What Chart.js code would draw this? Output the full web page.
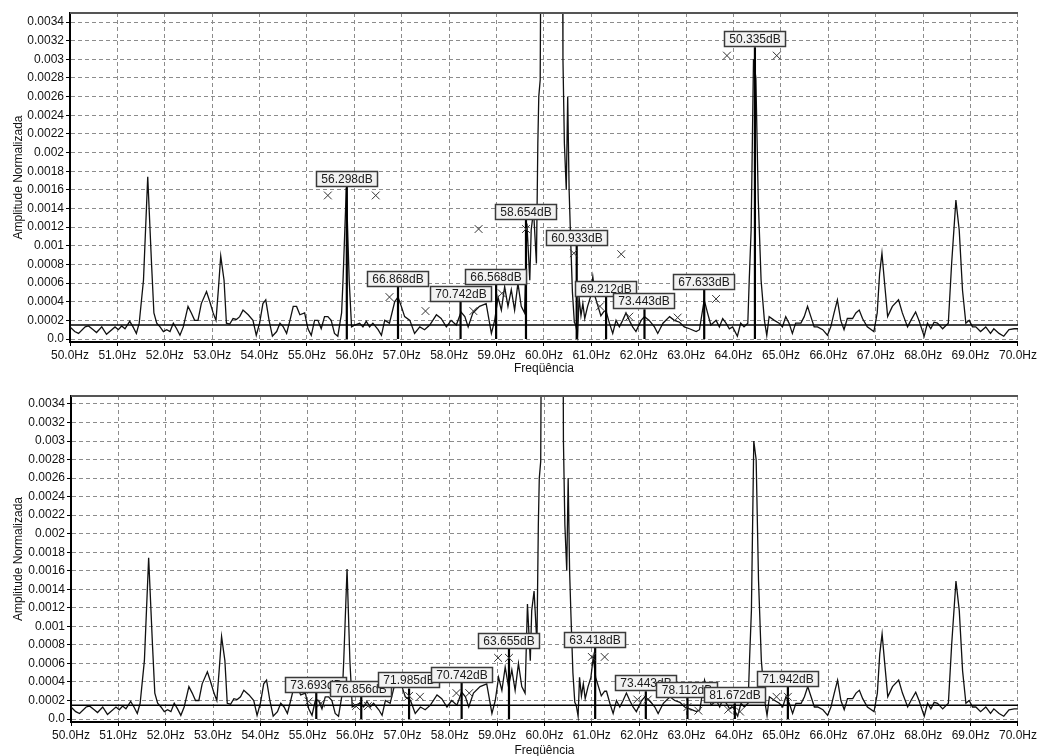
<!DOCTYPE html>
<html>
<head>
<meta charset="utf-8">
<script src="https://cdn.jsdelivr.net/npm/chart.js@4"></script>
<style>
  html, body { margin: 0; padding: 0; background: #fff; overflow: hidden; }
  .panel { position: absolute; left: 0; width: 1039px; }
  #top-panel { top: 0; height: 378px; }
  #bottom-panel { top: 378px; height: 390px; }
</style>
</head>
<body>
<div class="panel" id="top-panel"><canvas id="top-chart" width="1039" height="378"></canvas></div>
<div class="panel" id="bottom-panel"><canvas id="bottom-chart" width="1039" height="390"></canvas></div>
<script>
// Spectrum (Hz / normalized amplitude)
const freqs = [
  50.00, 50.10, 50.18, 50.32, 50.39, 50.49, 50.56, 50.67, 50.77, 50.95,
  51.02, 51.09, 51.16, 51.26, 51.33, 51.40, 51.46, 51.55, 51.64, 51.72,
  51.77, 51.83, 51.90, 51.97, 52.04, 52.11, 52.18, 52.25, 52.32, 52.39,
  52.49, 52.56, 52.63, 52.70, 52.77, 52.88, 52.95, 53.02, 53.08, 53.13,
  53.18, 53.25, 53.30, 53.37, 53.44, 53.51, 53.58, 53.65, 53.76, 53.86,
  53.93, 54.00, 54.07, 54.13, 54.20, 54.27, 54.36, 54.43, 54.50, 54.57,
  54.64, 54.71, 54.78, 54.85, 54.95, 55.02, 55.09, 55.16, 55.23, 55.30,
  55.37, 55.44, 55.51, 55.58, 55.65, 55.73, 55.76, 55.83, 55.89, 55.94,
  56.01, 56.11, 56.18, 56.25, 56.32, 56.39, 56.50, 56.57, 56.64, 56.74,
  56.85, 56.92, 56.99, 57.06, 57.17, 57.27, 57.38, 57.48, 57.59, 57.73,
  57.83, 57.94, 58.04, 58.15, 58.25, 58.33, 58.40, 58.50, 58.64, 58.78,
  58.89, 58.96, 59.03, 59.10, 59.17, 59.24, 59.31, 59.38, 59.45, 59.52,
  59.59, 59.64, 59.70, 59.73, 59.78, 59.84, 59.87, 59.89, 59.92, 59.95,
  60.00, 60.20, 60.38, 60.40, 60.43, 60.47, 60.50, 60.53, 60.56, 60.60,
  60.64, 60.67, 60.71, 60.74, 60.78, 60.82, 60.86, 60.92, 60.98, 61.03,
  61.08, 61.14, 61.20, 61.27, 61.31, 61.38, 61.45, 61.52, 61.59, 61.66,
  61.73, 61.80, 61.87, 61.94, 62.05, 62.12, 62.22, 62.33, 62.40, 62.51,
  62.65, 62.75, 62.86, 62.96, 63.07, 63.21, 63.28, 63.38, 63.45, 63.52,
  63.63, 63.70, 63.77, 63.84, 63.91, 63.98, 64.08, 64.15, 64.22, 64.30,
  64.33, 64.37, 64.42, 64.47, 64.52, 64.58, 64.65, 64.70, 64.75, 64.86,
  64.96, 65.03, 65.10, 65.17, 65.24, 65.31, 65.42, 65.49, 65.56, 65.63,
  65.70, 65.77, 65.88, 65.98, 66.05, 66.12, 66.19, 66.26, 66.33, 66.40,
  66.51, 66.58, 66.65, 66.72, 66.82, 66.96, 67.03, 67.08, 67.13, 67.18,
  67.25, 67.35, 67.48, 67.56, 67.67, 67.74, 67.84, 67.91, 68.02, 68.09,
  68.16, 68.23, 68.30, 68.41, 68.53, 68.60, 68.69, 68.76, 68.83, 68.90,
  68.97, 69.04, 69.11, 69.21, 69.32, 69.42, 69.49, 69.60, 69.70, 69.81,
  69.92, 70.00
];
const amps = [
  0.00013, 0.00008, 0.00006, 0.00013, 0.00014, 0.00010, 0.00007, 0.00013, 0.00005, 0.00013,
  0.00010, 0.00014, 0.00011, 0.00019, 0.00013, 0.00006, 0.00017, 0.00063, 0.00174, 0.00081,
  0.00028, 0.00017, 0.00013, 0.00008, 0.00010, 0.00008, 0.00017, 0.00011, 0.00004, 0.00013,
  0.00035, 0.00028, 0.00020, 0.00020, 0.00038, 0.00051, 0.00040, 0.00028, 0.00020, 0.00053,
  0.00089, 0.00063, 0.00017, 0.00016, 0.00022, 0.00021, 0.00024, 0.00031, 0.00026, 0.00020,
  0.00004, 0.00017, 0.00038, 0.00042, 0.00020, 0.00003, 0.00008, 0.00017, 0.00013, 0.00006,
  0.00020, 0.00035, 0.00035, 0.00026, 0.00028, 0.00011, 0.00004, 0.00020, 0.00020, 0.00011,
  0.00024, 0.00024, 0.00020, 0.00006, 0.00003, 0.00028, 0.00063, 0.00162, 0.00063, 0.00013,
  0.00015, 0.00017, 0.00013, 0.00019, 0.00013, 0.00017, 0.00010, 0.00004, 0.00020, 0.00017,
  0.00040, 0.00045, 0.00035, 0.00024, 0.00020, 0.00006, 0.00013, 0.00010, 0.00015, 0.00026,
  0.00022, 0.00013, 0.00020, 0.00015, 0.00029, 0.00024, 0.00013, 0.00028, 0.00035, 0.00038,
  0.00006, 0.00020, 0.00045, 0.00031, 0.00056, 0.00035, 0.00053, 0.00031, 0.00060, 0.00035,
  0.00028, 0.00124, 0.00063, 0.00117, 0.00138, 0.00081, 0.00210, 0.00260, 0.00278, 0.00600,
  0.02000, 0.03000, 0.00600, 0.00300, 0.00210, 0.00160, 0.00260, 0.00160, 0.00110, 0.00050,
  0.00018, 0.00015, 0.00003, 0.00045, 0.00025, 0.00038, 0.00022, 0.00035, 0.00045, 0.00067,
  0.00045, 0.00035, 0.00025, 0.00030, 0.00030, 0.00017, 0.00006, 0.00020, 0.00013, 0.00020,
  0.00028, 0.00020, 0.00013, 0.00008, 0.00020, 0.00024, 0.00020, 0.00013, 0.00006, 0.00017,
  0.00024, 0.00020, 0.00018, 0.00013, 0.00011, 0.00008, 0.00010, 0.00042, 0.00028, 0.00015,
  0.00020, 0.00013, 0.00022, 0.00017, 0.00011, 0.00013, 0.00003, 0.00017, 0.00013, 0.00017,
  0.00063, 0.00117, 0.00300, 0.00280, 0.00150, 0.00063, 0.00020, 0.00004, 0.00024, 0.00020,
  0.00017, 0.00013, 0.00024, 0.00017, 0.00006, 0.00017, 0.00017, 0.00024, 0.00035, 0.00024,
  0.00013, 0.00013, 0.00010, 0.00004, 0.00013, 0.00028, 0.00042, 0.00020, 0.00010, 0.00022,
  0.00022, 0.00028, 0.00031, 0.00022, 0.00013, 0.00008, 0.00028, 0.00070, 0.00092, 0.00063,
  0.00024, 0.00035, 0.00042, 0.00028, 0.00013, 0.00020, 0.00029, 0.00020, 0.00003, 0.00017,
  0.00011, 0.00018, 0.00017, 0.00011, 0.00017, 0.00081, 0.00149, 0.00117, 0.00052, 0.00017,
  0.00020, 0.00013, 0.00013, 0.00008, 0.00013, 0.00006, 0.00011, 0.00006, 0.00003, 0.00010,
  0.00011, 0.00011
];
const threshold = 0.00015;

// Axis ticks
const xTickValues = [50, 51, 52, 53, 54, 55, 56, 57, 58, 59, 60, 61, 62, 63, 64, 65, 66, 67, 68, 69, 70];
const xTickLabels = ['50.0Hz','51.0Hz','52.0Hz','53.0Hz','54.0Hz','55.0Hz','56.0Hz','57.0Hz','58.0Hz','59.0Hz','60.0Hz',
                     '61.0Hz','62.0Hz','63.0Hz','64.0Hz','65.0Hz','66.0Hz','67.0Hz','68.0Hz','69.0Hz','70.0Hz'];
const yTickValues = [0, 0.0002, 0.0004, 0.0006, 0.0008, 0.001, 0.0012, 0.0014, 0.0016, 0.0018,
                     0.002, 0.0022, 0.0024, 0.0026, 0.0028, 0.003, 0.0032, 0.0034];
const yTickLabels = ['0.0','0.0002','0.0004','0.0006','0.0008','0.001','0.0012','0.0014','0.0016','0.0018',
                     '0.002','0.0022','0.0024','0.0026','0.0028','0.003','0.0032','0.0034'];

// Top panel markers
const topStemFreqs  = [55.84, 56.92, 58.24, 58.99, 59.62, 60.69, 61.31, 62.12, 63.38, 64.45];
const topStemTops   = [0.00163, 0.00056, 0.00040, 0.00058, 0.00128, 0.00100, 0.00045, 0.00032, 0.00053, 0.00313];
const topStemLabels = ['56.298dB','66.868dB','70.742dB','66.568dB','58.654dB','60.933dB','69.212dB','73.443dB','67.633dB','50.335dB'];
const topCrossFreqs = [55.44, 56.45, 56.74, 57.50, 58.51, 58.62, 59.11, 59.62, 60.63, 61.18, 61.63, 61.80, 62.82, 63.63, 63.86, 64.91];
const topCrossAmps  = [0.00154, 0.00154, 0.00045, 0.00030, 0.00030, 0.00118, 0.00049, 0.00118, 0.00092, 0.00035, 0.00091, 0.00024, 0.00023, 0.00043, 0.00304, 0.00304];

// Bottom panel markers
const botStemFreqs  = [55.18, 56.13, 57.14, 58.25, 59.25, 61.07, 62.14, 63.02, 64.02, 65.14];
const botStemTops   = [0.00028, 0.00024, 0.00033, 0.00039, 0.00076, 0.00077, 0.00030, 0.00023, 0.00017, 0.00035];
const botStemLabels = ['73.693dB','76.856dB','71.985dB','70.742dB','63.655dB','63.418dB','73.443dB','78.112dB','81.672dB','71.942dB'];
const botCrossFreqs = [55.02, 55.28, 56.02, 56.27, 57.14, 57.37, 58.14, 58.41, 59.02, 59.25, 61.00, 61.27, 61.96, 62.18, 63.02, 63.25, 63.88, 64.13, 64.90, 65.14];
const botCrossAmps  = [0.00019, 0.00017, 0.00014, 0.00014, 0.00025, 0.00024, 0.00028, 0.00028, 0.00066, 0.00066, 0.00067, 0.00067, 0.00021, 0.00021, 0.00013, 0.00009, 0.00010, 0.00008, 0.00024, 0.00024];

const FONT = '"Liberation Sans", Arial, sans-serif';
Chart.defaults.font.family = FONT;
Chart.defaults.font.size = 12;
Chart.defaults.color = '#111';

const spectrum = freqs.map((f, i) => ({ x: f, y: amps[i] }));

// solid frame line along the top of the plot area
const frameTop = {
  id: 'frameTop',
  afterDraw(chart) {
    const { ctx, chartArea: a } = chart;
    ctx.save();
    ctx.strokeStyle = '#555';
    ctx.lineWidth = 2;
    ctx.beginPath();
    ctx.moveTo(a.left, a.top);
    ctx.lineTo(a.right, a.top);
    ctx.stroke();
    ctx.restore();
  }
};

// boxed dB labels sitting on top of each stem
const dbLabels = {
  id: 'dbLabels',
  afterDatasetsDraw(chart, args, opts) {
    const { ctx } = chart;
    const xs = chart.scales.x, ys = chart.scales.y;
    const w = 62, h = 16;
    ctx.save();
    ctx.font = '12px ' + FONT;
    ctx.textAlign = 'center';
    ctx.textBaseline = 'middle';
    opts.freqs.forEach((f, i) => {
      const cx = Math.round(xs.getPixelForValue(f));
      const bottom = Math.round(ys.getPixelForValue(opts.tops[i]));
      ctx.fillStyle = '#f2f2f2';
      ctx.fillRect(cx - w / 2, bottom - h, w, h);
      ctx.strokeStyle = '#3a3a3a';
      ctx.lineWidth = 1.5;
      ctx.strokeRect(cx - w / 2 + 0.5, bottom - h + 0.5, w - 1, h - 1);
      ctx.fillStyle = '#1a1a1a';
      ctx.fillText(opts.labels[i], cx, bottom - h / 2 + 1);
    });
    ctx.restore();
  }
};

function buildChart(canvasId, p) {
  const stemData = [];
  p.stemFreqs.forEach((f, i) => {
    stemData.push({ x: f, y: 0 }, { x: f, y: p.stemTops[i] }, { x: f, y: null });
  });
  const crossData = p.crossFreqs.map((f, i) => ({ x: f, y: p.crossAmps[i] }));

  return new Chart(document.getElementById(canvasId), {
    type: 'line',
    data: {
      datasets: [
        { data: spectrum, borderColor: '#111', borderWidth: 1.3, pointRadius: 0, tension: 0, order: 4 },
        { data: [{ x: 50, y: threshold }, { x: 70, y: threshold }], borderColor: '#000', borderWidth: 1.5, pointRadius: 0, order: 3 },
        { data: stemData, borderColor: '#000', borderWidth: 2.2, pointRadius: 0, spanGaps: false, order: 2 },
        { data: crossData, showLine: false, pointStyle: 'crossRot', pointRadius: 5.5, borderColor: '#333', borderWidth: 1, order: 1 },
      ],
    },
    options: {
      responsive: false,
      animation: false,
      devicePixelRatio: 1,
      layout: { padding: { top: p.padTop, right: p.padRight, left: 0, bottom: 0 } },
      plugins: {
        legend: { display: false },
        tooltip: { enabled: false },
        dbLabels: { freqs: p.stemFreqs, tops: p.stemTops, labels: p.stemLabels },
      },
      scales: {
        x: {
          type: 'linear', min: 50, max: 70,
          afterBuildTicks: s => { s.ticks = xTickValues.map(v => ({ value: v })); },
          afterFit: s => { s.height = p.xAxisHeight; },
          ticks: { autoSkip: false, maxRotation: 0, padding: 2, color: '#111', callback: (v, i) => xTickLabels[i] },
          grid: { color: '#8c8c8c', lineWidth: 1, tickLength: 4, tickColor: '#000' },
          border: { display: true, color: '#000', width: 2, dash: [4, 3] },
          title: { display: true, text: 'Freqüência', font: { size: 12 }, padding: { top: 0, bottom: p.titlePad } },
        },
        y: {
          type: 'linear', min: -0.000032, max: p.yMax,
          afterBuildTicks: s => { s.ticks = yTickValues.map(v => ({ value: v })); },
          afterFit: s => { s.width = p.yAxisWidth; },
          ticks: { autoSkip: false, padding: 2, color: '#111', callback: (v, i) => yTickLabels[i] },
          grid: { color: '#8c8c8c', lineWidth: 1, tickLength: 4, tickColor: '#000' },
          border: { display: true, color: '#000', width: 2, dash: [4, 3] },
          title: { display: true, text: 'Amplitude Normalizada', font: { size: 12 }, padding: { top: 11, bottom: 0 } },
        },
      },
    },
    plugins: [frameTop, dbLabels],
  });
}

buildChart('top-chart', {
  padTop: 13, padRight: 20, yAxisWidth: 70, xAxisHeight: 36, titlePad: 2, yMax: 0.003497,
  stemFreqs: topStemFreqs, stemTops: topStemTops, stemLabels: topStemLabels,
  crossFreqs: topCrossFreqs, crossAmps: topCrossAmps,
});

buildChart('bottom-chart', {
  padTop: 18, padRight: 18, yAxisWidth: 71, xAxisHeight: 46, titlePad: 10, yMax: 0.003486,
  stemFreqs: botStemFreqs, stemTops: botStemTops, stemLabels: botStemLabels,
  crossFreqs: botCrossFreqs, crossAmps: botCrossAmps,
});
</script>
</body>
</html>
